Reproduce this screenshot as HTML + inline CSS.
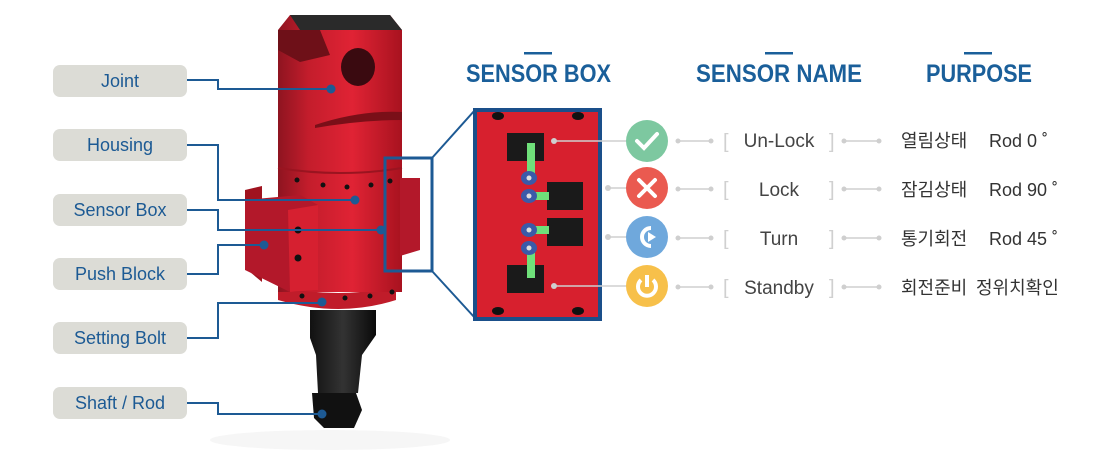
<!DOCTYPE html>
<html><head><meta charset="utf-8"><style>
body{margin:0;background:#fff;}
svg{display:block;font-family:"Liberation Sans","Noto Sans CJK KR",sans-serif;}
</style></head><body>
<svg width="1115" height="471" viewBox="0 0 1115 471" xmlns="http://www.w3.org/2000/svg">
<defs>
<linearGradient id="rg" x1="0" x2="1">
<stop offset="0" stop-color="#8e1420"/><stop offset="0.25" stop-color="#c41d2c"/><stop offset="0.6" stop-color="#e02334"/><stop offset="1" stop-color="#a8121f"/>
</linearGradient>
<linearGradient id="bg" x1="0" x2="1">
<stop offset="0" stop-color="#111"/><stop offset="0.5" stop-color="#333"/><stop offset="1" stop-color="#0a0a0a"/>
</linearGradient>
</defs>
<!-- labels -->
<g font-size="18" fill="#1c5a94" text-anchor="middle">
<rect x="53" y="65" width="134" height="32" rx="7" fill="#dcdcd6"/><text x="120" y="87">Joint</text>
<rect x="53" y="129" width="134" height="32" rx="7" fill="#dcdcd6"/><text x="120" y="151">Housing</text>
<rect x="53" y="194" width="134" height="32" rx="7" fill="#dcdcd6"/><text x="120" y="216">Sensor Box</text>
<rect x="53" y="258" width="134" height="32" rx="7" fill="#dcdcd6"/><text x="120" y="280">Push Block</text>
<rect x="53" y="322" width="134" height="32" rx="7" fill="#dcdcd6"/><text x="120" y="344">Setting Bolt</text>
<rect x="53" y="387" width="134" height="32" rx="7" fill="#dcdcd6"/><text x="120" y="409">Shaft / Rod</text>
</g>
<!-- product -->
<ellipse cx="330" cy="440" rx="120" ry="10" fill="#f6f6f6"/>
<path d="M312 393 L356 393 L362 410 L354 428 L324 428 L314 418 Z" fill="#111"/>
<path d="M310 310 L376 310 L376 335 L362 355 L358 393 L318 393 L316 355 L310 338 Z" fill="url(#bg)"/>
<path d="M278 286 Q340 300 396 286 L396 300 Q340 318 278 300 Z" fill="#c01c2a"/>
<rect x="278" y="30" width="124" height="262" fill="url(#rg)"/>
<path d="M290 15 L390 15 L402 30 L402 120 L350 120 Q340 100 300 80 L278 60 L278 30 Z" fill="url(#rg)"/>
<path d="M290 15 L390 15 L402 30 L300 30 Z" fill="#2a2a2a"/>
<path d="M278 30 L320 30 L330 55 L300 62 L278 50 Z" fill="#6e1018"/>
<ellipse cx="358" cy="67" rx="17" ry="19" fill="#3a0a10"/>
<path d="M315 125 Q360 110 402 112 L402 120 Q360 120 315 128 Z" fill="#7a0f18"/>
<path d="M278 168 Q340 178 402 168" stroke="#9a1420" stroke-width="2" fill="none"/>
<g fill="#111">
<circle cx="297" cy="180" r="2.5"/><circle cx="323" cy="185" r="2.5"/><circle cx="347" cy="187" r="2.5"/><circle cx="371" cy="185" r="2.5"/><circle cx="390" cy="181" r="2.5"/>
<circle cx="302" cy="296" r="2.5"/><circle cx="345" cy="298" r="2.5"/><circle cx="370" cy="296" r="2.5"/><circle cx="392" cy="292" r="2.5"/>
</g>
<path d="M245 190 L262 186 L262 282 L250 272 L245 250 Z" fill="#a0131f"/>
<path d="M245 200 L300 195 L318 205 L318 290 L290 292 L245 270 Z" fill="#b3182a"/>
<path d="M288 210 L318 205 L318 290 L290 292 Z" fill="#d62030"/>
<circle cx="298" cy="230" r="3.5" fill="#111"/><circle cx="298" cy="258" r="3.5" fill="#111"/>
<path d="M400 178 L420 178 L420 250 L400 256 Z" fill="#b3182a"/>
<!-- connectors -->
<g stroke="#1d5a94" stroke-width="2" fill="none">
<path d="M187 80 H218 V89 H331"/>
<path d="M187 145 H218 V200 H355"/>
<path d="M187 210 H218 V230 H381"/>
<path d="M187 274 H218 V245 H264"/>
<path d="M187 338 H218 V303 H322"/>
<path d="M187 403 H218 V414 H322"/>
</g>
<g fill="#1d5a94">
<circle cx="331" cy="89" r="4.5"/><circle cx="355" cy="200" r="4.5"/><circle cx="381" cy="230" r="4.5"/>
<circle cx="264" cy="245" r="4.5"/><circle cx="322" cy="302" r="4.5"/><circle cx="322" cy="414" r="4.5"/>
</g>
<rect x="385" y="158" width="47" height="113" stroke="#1d5a94" stroke-width="3" fill="none"/>
<path d="M432 158 L475 110 M432 271 L475 318" stroke="#1d5a94" stroke-width="2"/>
<!-- sensor box panel -->
<rect x="475" y="110" width="125" height="209" fill="#d7202e" stroke="#1a4f8a" stroke-width="4"/>
<g fill="#111">
<ellipse cx="498" cy="116" rx="6" ry="4"/><ellipse cx="578" cy="116" rx="6" ry="4"/>
<ellipse cx="498" cy="311" rx="6" ry="4"/><ellipse cx="578" cy="311" rx="6" ry="4"/>
</g>
<g>
<rect x="507" y="133" width="37" height="28" fill="#1a1a1a"/><rect x="527" y="143" width="8" height="34" fill="#6fe07a"/>
<rect x="547" y="182" width="36" height="28" fill="#1a1a1a"/><rect x="535" y="192" width="14" height="8" fill="#6fe07a"/>
<rect x="547" y="218" width="36" height="28" fill="#1a1a1a"/><rect x="535" y="226" width="14" height="8" fill="#6fe07a"/>
<rect x="507" y="265" width="37" height="28" fill="#1a1a1a"/><rect x="527" y="250" width="8" height="28" fill="#6fe07a"/>
<g fill="#3b5aa8"><ellipse cx="529" cy="178" rx="8" ry="7"/><ellipse cx="529" cy="196" rx="8" ry="7"/><ellipse cx="529" cy="230" rx="8" ry="7"/><ellipse cx="529" cy="248" rx="8" ry="7"/></g>
<g fill="#ddd"><circle cx="529" cy="178" r="2.5"/><circle cx="529" cy="196" r="2.5"/><circle cx="529" cy="230" r="2.5"/><circle cx="529" cy="248" r="2.5"/></g>
</g>
<g stroke="#cfcfcf" stroke-width="1.5" fill="#cfcfcf">
<line x1="554" y1="141" x2="626" y2="141"/><circle cx="554" cy="141" r="3" stroke="none"/>
<line x1="608" y1="188" x2="626" y2="188"/><circle cx="608" cy="188" r="3" stroke="none"/>
<line x1="608" y1="237" x2="626" y2="237"/><circle cx="608" cy="237" r="3" stroke="none"/>
<line x1="554" y1="286" x2="626" y2="286"/><circle cx="554" cy="286" r="3" stroke="none"/>
</g>
<!-- icons -->
<circle cx="647" cy="141" r="21" fill="#7dc8a0"/>
<path d="M637 141 L644 148 L657 134" stroke="#fff" stroke-width="4" fill="none" stroke-linecap="round"/>
<circle cx="647" cy="188" r="21" fill="#ea5a50"/>
<path d="M639 180 L655 196 M655 180 L639 196" stroke="#fff" stroke-width="4" stroke-linecap="round"/>
<circle cx="647" cy="237" r="21" fill="#6fa8dc"/>
<path d="M651 228 A9 9 0 1 0 651 246" stroke="#fff" stroke-width="4" fill="none"/>
<path d="M648 232 L656 237 L648 242 Z" fill="#fff"/>
<circle cx="647" cy="286" r="21" fill="#f7c04a"/>
<path d="M641 280 A9 9 0 1 0 653 280" stroke="#fff" stroke-width="4" fill="none"/>
<line x1="647" y1="275" x2="647" y2="287" stroke="#fff" stroke-width="4"/>
<!-- rows -->
<g stroke="#cfcfcf" stroke-width="1.5" fill="#cfcfcf">
<g><line x1="678" y1="141" x2="711" y2="141"/><circle cx="678" cy="141" r="2.5" stroke="none"/><circle cx="711" cy="141" r="2.5" stroke="none"/>
<line x1="844" y1="141" x2="879" y2="141"/><circle cx="844" cy="141" r="2.5" stroke="none"/><circle cx="879" cy="141" r="2.5" stroke="none"/></g>
<g><line x1="678" y1="189" x2="711" y2="189"/><circle cx="678" cy="189" r="2.5" stroke="none"/><circle cx="711" cy="189" r="2.5" stroke="none"/>
<line x1="844" y1="189" x2="879" y2="189"/><circle cx="844" cy="189" r="2.5" stroke="none"/><circle cx="879" cy="189" r="2.5" stroke="none"/></g>
<g><line x1="678" y1="238" x2="711" y2="238"/><circle cx="678" cy="238" r="2.5" stroke="none"/><circle cx="711" cy="238" r="2.5" stroke="none"/>
<line x1="844" y1="238" x2="879" y2="238"/><circle cx="844" cy="238" r="2.5" stroke="none"/><circle cx="879" cy="238" r="2.5" stroke="none"/></g>
<g><line x1="678" y1="287" x2="711" y2="287"/><circle cx="678" cy="287" r="2.5" stroke="none"/><circle cx="711" cy="287" r="2.5" stroke="none"/>
<line x1="844" y1="287" x2="879" y2="287"/><circle cx="844" cy="287" r="2.5" stroke="none"/><circle cx="879" cy="287" r="2.5" stroke="none"/></g>
</g>
<g font-size="20" fill="#d0d0d0">
<text x="723" y="148">[</text><text x="829" y="148">]</text>
<text x="723" y="196">[</text><text x="829" y="196">]</text>
<text x="723" y="245">[</text><text x="829" y="245">]</text>
<text x="723" y="294">[</text><text x="829" y="294">]</text>
</g>
<g font-size="19" fill="#444" text-anchor="middle">
<text x="779" y="147">Un-Lock</text>
<text x="779" y="196">Lock</text>
<text x="779" y="245">Turn</text>
<text x="779" y="294">Standby</text>
</g>
<g font-size="18" fill="#333">
<text x="901" y="147">열림상태 <tspan x="989">Rod 0 ˚</tspan></text>
<text x="901" y="196">잠김상태 <tspan x="989">Rod 90 ˚</tspan></text>
<text x="901" y="245">통기회전 <tspan x="989">Rod 45 ˚</tspan></text>
<text x="901" y="294">회전준비 <tspan x="976">정위치확인</tspan></text>
</g>
<!-- headers -->
<g font-size="25" font-weight="bold" fill="#1a5f9a">
<text x="466" y="82" textLength="145" lengthAdjust="spacingAndGlyphs">SENSOR BOX</text>
<text x="696" y="82" textLength="166" lengthAdjust="spacingAndGlyphs">SENSOR NAME</text>
<text x="926" y="82" textLength="106" lengthAdjust="spacingAndGlyphs">PURPOSE</text>
</g>
<g fill="#1a5f9a">
<rect x="524" y="52" width="28" height="2.5"/>
<rect x="765" y="52" width="28" height="2.5"/>
<rect x="964" y="52" width="28" height="2.5"/>
</g>
</svg>
</body></html>
